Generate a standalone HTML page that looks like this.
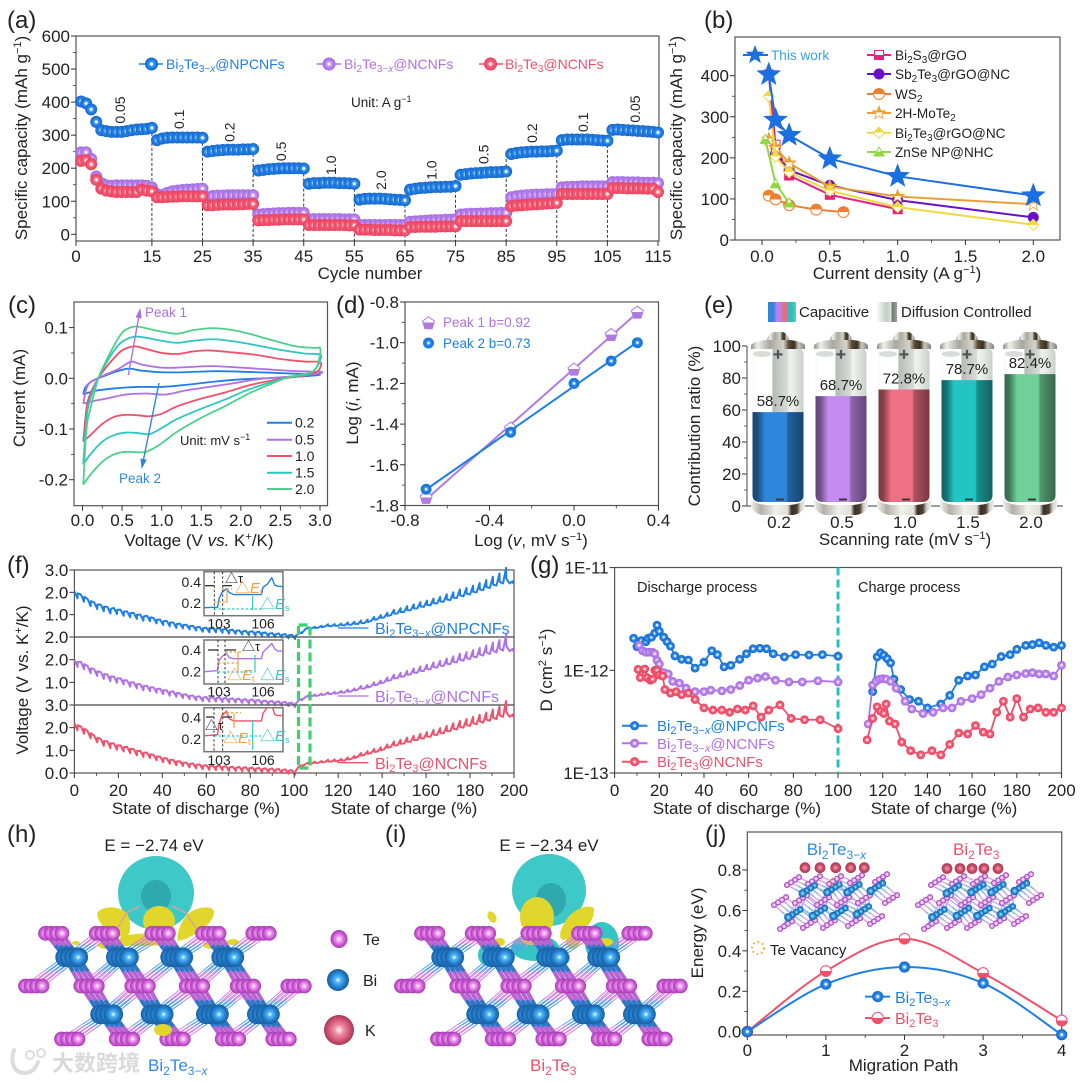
<!DOCTYPE html>
<html lang="en">
<head>
<meta charset="utf-8">
<title>Bi2Te3 composite electrochemical figure</title>
<style>
html,body{margin:0;padding:0;background:#fff}
svg{display:block;font-family:"Liberation Sans","Noto Sans CJK SC",sans-serif}
text{fill:#222;font-size:17px}
.panel{font-size:24px}
.title{text-anchor:middle}
</style>
</head>
<body>
<svg id="fig" xmlns="http://www.w3.org/2000/svg" width="1080" height="1082" viewBox="0 0 1080 1082">
<defs>
<radialGradient id="bead-blue"><stop offset="0" stop-color="#fff"/><stop offset=".16" stop-color="#e6f3ff"/><stop offset=".42" stop-color="#2a8cf0"/><stop offset="1" stop-color="#1565c8"/></radialGradient>
<radialGradient id="bead-purple"><stop offset="0" stop-color="#fff"/><stop offset=".16" stop-color="#f5ecff"/><stop offset=".42" stop-color="#c08cf0"/><stop offset="1" stop-color="#a468e0"/></radialGradient>
<radialGradient id="bead-red"><stop offset="0" stop-color="#fff"/><stop offset=".16" stop-color="#ffecef"/><stop offset=".42" stop-color="#f8607a"/><stop offset="1" stop-color="#e8405c"/></radialGradient>
<radialGradient id="atom-te"><stop offset="0" stop-color="#fff"/><stop offset=".3" stop-color="#f0a0f0"/><stop offset=".75" stop-color="#c850d0"/><stop offset="1" stop-color="#a040b0"/></radialGradient>
<radialGradient id="atom-bi"><stop offset="0" stop-color="#fff"/><stop offset=".25" stop-color="#50b8f8"/><stop offset=".72" stop-color="#1f78c8"/><stop offset="1" stop-color="#1a5f9c"/></radialGradient>
<radialGradient id="atom-k"><stop offset="0" stop-color="#fff"/><stop offset=".3" stop-color="#f090a8"/><stop offset=".75" stop-color="#d04f70"/><stop offset="1" stop-color="#9f3a5a"/></radialGradient>
<radialGradient id="atom-k-small"><stop offset="0" stop-color="#f0a0b0"/><stop offset=".6" stop-color="#c84a64"/><stop offset="1" stop-color="#a83a54"/></radialGradient>
<linearGradient id="glass" x1="0" x2="1" y1="0" y2="0"><stop offset="0" stop-color="#f4f6f4"/><stop offset=".06" stop-color="#fff"/><stop offset=".38" stop-color="#fff"/><stop offset=".4" stop-color="#b5bdb9"/><stop offset=".68" stop-color="#d6dbd8"/><stop offset=".72" stop-color="#f0f2f0"/><stop offset=".82" stop-color="#e6e9e6"/><stop offset="1" stop-color="#c8cfcb"/></linearGradient>
<linearGradient id="shade" x1="0" x2="1" y1="0" y2="0"><stop offset="0" stop-color="#000" stop-opacity=".5"/><stop offset=".1" stop-color="#000" stop-opacity=".42"/><stop offset=".25" stop-color="#000" stop-opacity="0"/><stop offset=".66" stop-color="#000" stop-opacity="0"/><stop offset=".7" stop-color="#000" stop-opacity=".28"/><stop offset="1" stop-color="#000" stop-opacity=".5"/></linearGradient>
<linearGradient id="metal" x1="0" x2="1" y1="0" y2="0"><stop offset="0" stop-color="#8f928b"/><stop offset=".12" stop-color="#efefec"/><stop offset=".35" stop-color="#a8a89f"/><stop offset=".6" stop-color="#d4d4cc"/><stop offset=".7" stop-color="#5a4a32"/><stop offset=".8" stop-color="#3a3020"/><stop offset=".88" stop-color="#c8c8c0"/><stop offset="1" stop-color="#808078"/></linearGradient>
<linearGradient id="cup" x1="0" x2="1" y1="0" y2="0"><stop offset="0" stop-color="#f2f2ee"/><stop offset=".18" stop-color="#b0b0a8"/><stop offset=".45" stop-color="#f0f0ec"/><stop offset=".68" stop-color="#e0e0d8"/><stop offset=".75" stop-color="#3a3020"/><stop offset=".85" stop-color="#4a4030"/><stop offset=".92" stop-color="#d4d4cc"/><stop offset="1" stop-color="#f0f0ec"/></linearGradient>
<linearGradient id="legend-capacitive" x1="0" x2="1" y1="0" y2="0"><stop offset="0" stop-color="#2f86dc"/><stop offset=".2" stop-color="#2f86dc"/><stop offset=".3" stop-color="#b980ea"/><stop offset=".45" stop-color="#b980ea"/><stop offset=".55" stop-color="#ee6a7c"/><stop offset=".65" stop-color="#ee6a7c"/><stop offset=".75" stop-color="#25c4c4"/><stop offset=".87" stop-color="#25c4c4"/><stop offset="1" stop-color="#6fd09a"/></linearGradient>
<linearGradient id="legend-diffusion" x1="0" x2="1" y1="0" y2="0"><stop offset="0" stop-color="#fff"/><stop offset=".5" stop-color="#c4ccc8"/><stop offset=".72" stop-color="#e0e4e0"/><stop offset=".76" stop-color="#70786f"/><stop offset="1" stop-color="#9aa29c"/></linearGradient>
<clipPath id="clip-inset-1"><rect x="204" y="571.7" width="79" height="44.3"/></clipPath>
<clipPath id="clip-inset-2"><rect x="204" y="640" width="79" height="44"/></clipPath>
<clipPath id="clip-inset-3"><rect x="204" y="707.7" width="79" height="44"/></clipPath>
</defs>

<!-- PANEL A -->
<g id="panel-a">
  <text class="panel" x="7" y="28">(a)</text>
  <g id="a-plot"></g>
  <text class="title" transform="translate(27,138) rotate(-90)">Specific capacity (mAh g<tspan dy="-6" font-size="11">−1</tspan><tspan dy="6">)</tspan></text>
  <text class="title" x="370" y="279">Cycle number</text>
  <g font-size="14">
    <text x="166" y="69" style="font-size:14px;fill:#1f7fe6">Bi<tspan dy="3" font-size="10">2</tspan><tspan dy="-3">Te</tspan><tspan dy="3" font-size="10">3−<tspan font-style="italic">x</tspan></tspan><tspan dy="-3">@NPCNFs</tspan></text>
    <text x="344" y="69" style="font-size:14px;fill:#b070e8">Bi<tspan dy="3" font-size="10">2</tspan><tspan dy="-3">Te</tspan><tspan dy="3" font-size="10">3−<tspan font-style="italic">x</tspan></tspan><tspan dy="-3">@NCNFs</tspan></text>
    <text x="505" y="69" style="font-size:14px;fill:#f0506a">Bi<tspan dy="3" font-size="10">2</tspan><tspan dy="-3">Te</tspan><tspan dy="3" font-size="10">3</tspan><tspan dy="-3">@NCNFs</tspan></text>
  </g>
  <text x="351" y="107" style="font-size:13.5px">Unit: A g<tspan dy="-5" font-size="9">−1</tspan></text>
</g>

<!-- PANEL B -->
<g id="panel-b">
  <text class="panel" x="704" y="28">(b)</text>
  <g id="b-plot"></g>
  <text class="title" transform="translate(682,138) rotate(-90)">Specific capacity (mAh g<tspan dy="-6" font-size="11">−1</tspan><tspan dy="6">)</tspan></text>
  <text class="title" x="897" y="279">Current density (A g<tspan dy="-6" font-size="11">−1</tspan><tspan dy="6">)</tspan></text>
  <g>
    <text x="771" y="60" style="font-size:13.6px;fill:#3aa0e8">This work</text>
    <text x="895" y="60" style="font-size:13.6px">Bi<tspan dy="3" font-size="10">2</tspan><tspan dy="-3">S</tspan><tspan dy="3" font-size="10">3</tspan><tspan dy="-3">@rGO</tspan></text>
    <text x="895" y="79" style="font-size:13.6px">Sb<tspan dy="3" font-size="10">2</tspan><tspan dy="-3">Te</tspan><tspan dy="3" font-size="10">3</tspan><tspan dy="-3">@rGO@NC</tspan></text>
    <text x="895" y="99" style="font-size:13.6px">WS<tspan dy="3" font-size="10">2</tspan></text>
    <text x="895" y="118" style="font-size:13.6px">2H-MoTe<tspan dy="3" font-size="10">2</tspan></text>
    <text x="895" y="138" style="font-size:13.6px">Bi<tspan dy="3" font-size="10">2</tspan><tspan dy="-3">Te</tspan><tspan dy="3" font-size="10">3</tspan><tspan dy="-3">@rGO@NC</tspan></text>
    <text x="895" y="157" style="font-size:13.6px">ZnSe NP@NHC</text>
  </g>
</g>

<!-- PANEL C -->
<g id="panel-c">
  <text class="panel" x="8" y="313">(c)</text>
  <g id="c-plot"></g>
  <text class="title" transform="translate(25,398) rotate(-90)">Current (mA)</text>
  <text class="title" x="199" y="546">Voltage (V <tspan font-style="italic">vs.</tspan> K<tspan dy="-6" font-size="11">+</tspan><tspan dy="6">/K)</tspan></text>
  <text x="145" y="317" style="font-size:13.5px;fill:#b070e0">Peak 1</text>
  <text x="119" y="483" style="font-size:13.5px;fill:#2f88e0">Peak 2</text>
  <text x="180" y="445" style="font-size:13px">Unit: mV s<tspan dy="-5" font-size="9">−1</tspan></text>
</g>

<!-- PANEL D -->
<g id="panel-d">
  <text class="panel" x="336" y="313">(d)</text>
  <g id="d-plot"></g>
  <text class="title" transform="translate(358,403) rotate(-90)">Log (<tspan font-style="italic">i</tspan>, mA)</text>
  <text class="title" x="531" y="546">Log (<tspan font-style="italic">v</tspan>, mV s<tspan dy="-6" font-size="11">−1</tspan><tspan dy="6">)</tspan></text>
  <text x="443" y="327" style="font-size:13.5px;fill:#b070e0">Peak 1 b=0.92</text>
  <text x="443" y="348" style="font-size:13.5px;fill:#1f7fe6">Peak 2 b=0.73</text>
</g>

<!-- PANEL E -->
<g id="panel-e">
  <text class="panel" x="704" y="313">(e)</text>
  <rect x="768" y="302" width="28" height="20" fill="url(#legend-capacitive)"/>
  <text x="799" y="317" style="font-size:15px">Capacitive</text>
  <rect x="876" y="302" width="21" height="20" fill="url(#legend-diffusion)"/>
  <text x="901" y="317" style="font-size:15px">Diffusion Controlled</text>
  <g id="e-plot"></g>
  <text class="title" transform="translate(700,426) rotate(-90)">Contribution ratio (%)</text>
  <text class="title" x="905" y="545">Scanning rate (mV s<tspan dy="-6" font-size="11">−1</tspan><tspan dy="6">)</tspan></text>
</g>

<!-- PANEL F -->
<g id="panel-f">
  <text class="panel" x="7" y="573">(f)</text>
  <g id="f-plot"></g>
  <text class="title" transform="translate(28,680) rotate(-90)">Voltage (V vs. K<tspan dy="-6" font-size="11">+</tspan><tspan dy="6">/K)</tspan></text>
  <text class="title" x="196" y="814">State of discharge (%)</text>
  <text class="title" x="404" y="814">State of charge (%)</text>
  <text x="375" y="634" style="font-size:16px;fill:#1f7fe6">Bi<tspan dy="3" font-size="11">2</tspan><tspan dy="-3">Te</tspan><tspan dy="3" font-size="11">3−<tspan font-style="italic">x</tspan></tspan><tspan dy="-3">@NPCNFs</tspan></text>
  <text x="375" y="702" style="font-size:16px;fill:#b070e8">Bi<tspan dy="3" font-size="11">2</tspan><tspan dy="-3">Te</tspan><tspan dy="3" font-size="11">3−<tspan font-style="italic">x</tspan></tspan><tspan dy="-3">@NCNFs</tspan></text>
  <text x="375" y="769" style="font-size:16px;fill:#f0506a">Bi<tspan dy="3" font-size="11">2</tspan><tspan dy="-3">Te</tspan><tspan dy="3" font-size="11">3</tspan><tspan dy="-3">@NCNFs</tspan></text>
  <g id="f-insets"></g>
  <g>
    <text x="225" y="583" style="font-size:13px">△τ</text>
    <text x="235" y="593" style="font-size:15px;fill:#f0a040">△<tspan font-style="italic">E</tspan><tspan dy="2" font-size="9">t</tspan></text>
    <text x="260" y="609" style="font-size:15px;fill:#35c5c5">△<tspan font-style="italic">E</tspan><tspan dy="2" font-size="9">s</tspan></text>
    <text x="242" y="651" style="font-size:13px">△τ</text>
    <text x="227" y="680" style="font-size:15px;fill:#f0a040">△<tspan font-style="italic">E</tspan><tspan dy="2" font-size="9">t</tspan></text>
    <text x="260" y="680" style="font-size:15px;fill:#35c5c5">△<tspan font-style="italic">E</tspan><tspan dy="2" font-size="9">s</tspan></text>
    <text x="205" y="730" style="font-size:13px">△τ</text>
    <text x="223" y="743" style="font-size:15px;fill:#f0a040">△<tspan font-style="italic">E</tspan><tspan dy="2" font-size="9">t</tspan></text>
    <text x="260" y="741" style="font-size:15px;fill:#35c5c5">△<tspan font-style="italic">E</tspan><tspan dy="2" font-size="9">s</tspan></text>
  </g>
  <rect x="298.5" y="625" width="11.5" height="143" fill="none" stroke="#3fcf6f" stroke-width="3.2" stroke-dasharray="9 4"/>
</g>

<!-- PANEL G -->
<g id="panel-g">
  <text class="panel" x="530" y="573">(g)</text>
  <g id="g-plot"></g>
  <text class="title" transform="translate(552,670) rotate(-90)">D (cm<tspan dy="-6" font-size="11">2</tspan><tspan dy="6"> s</tspan><tspan dy="-6" font-size="11">−1</tspan><tspan dy="6">)</tspan></text>
  <text class="title" x="737" y="814">State of discharge (%)</text>
  <text class="title" x="944" y="814">State of charge (%)</text>
  <text x="637" y="592" style="font-size:14.5px">Discharge process</text>
  <text x="858" y="592" style="font-size:14.5px">Charge process</text>
  <text x="657" y="731" style="font-size:15px;fill:#1f7fe6">Bi<tspan dy="3" font-size="11">2</tspan><tspan dy="-3">Te</tspan><tspan dy="3" font-size="11">3−<tspan font-style="italic">x</tspan></tspan><tspan dy="-3">@NPCNFs</tspan></text>
  <text x="657" y="749" style="font-size:15px;fill:#b070e8">Bi<tspan dy="3" font-size="11">2</tspan><tspan dy="-3">Te</tspan><tspan dy="3" font-size="11">3−<tspan font-style="italic">x</tspan></tspan><tspan dy="-3">@NCNFs</tspan></text>
  <text x="657" y="767" style="font-size:15px;fill:#f0506a">Bi<tspan dy="3" font-size="11">2</tspan><tspan dy="-3">Te</tspan><tspan dy="3" font-size="11">3</tspan><tspan dy="-3">@NCNFs</tspan></text>
</g>

<!-- PANEL H I -->
<g id="panel-h">
  <text class="panel" x="7" y="842">(h)</text>
  <text class="title" x="154" y="851">E = −2.74 eV</text>
  <ellipse cx="156" cy="893" rx="38" ry="37" fill="#3fc8c8"/>
  <ellipse cx="156" cy="896" rx="15" ry="16" fill="#2fa8ae"/>
  <g fill="#e0d62c">
    <path d="M97 914C100 905 122 905 128 915C132 925 130 936 126 937C112 936 98 925 97 914Z"/>
    <ellipse cx="159" cy="921" rx="16" ry="15"/>
    <path d="M214 912C214 905 196 906 188 914C180 922 176 935 178 941C190 939 214 925 214 912Z"/>
    <path d="M120 937C135 932 170 932 172 940C170 947 130 948 120 943Z"/>
    <ellipse cx="106" cy="945" rx="8" ry="4"/>
    <ellipse cx="126" cy="942" rx="6" ry="4"/>
    <ellipse cx="212" cy="945" rx="9" ry="4"/>
    <ellipse cx="233" cy="942" rx="6" ry="3"/>
    <ellipse cx="76" cy="943" rx="4" ry="2"/>
  </g>
  <g stroke="#e0a0a0" stroke-width="1.4">
    <line x1="126" y1="913" x2="140" y2="906"/>
    <line x1="186" y1="913" x2="172" y2="906"/>
    <line x1="126" y1="913" x2="118" y2="928"/>
    <line x1="186" y1="913" x2="196" y2="928"/>
  </g>
  <g id="crystal-h"></g>
  <ellipse cx="163" cy="1030" rx="9" ry="6" fill="#e0d62c"/>
  <text x="148" y="1071" style="font-size:17px;fill:#2f88e8">Bi<tspan dy="4" font-size="12">2</tspan><tspan dy="-4">Te</tspan><tspan dy="4" font-size="12">3−<tspan font-style="italic">x</tspan></tspan></text>
</g>
<g id="panel-i">
  <text class="panel" x="385" y="842">(i)</text>
  <text class="title" x="549" y="851">E = −2.34 eV</text>
  <ellipse cx="549" cy="890" rx="37" ry="36" fill="#3fc8c8"/>
  <ellipse cx="551" cy="900" rx="15" ry="17" fill="#2fa8ae"/>
  <g id="crystal-i-back" fill="#35c5c5">
    <ellipse cx="535" cy="948" rx="24" ry="13"/>
    <ellipse cx="488" cy="955" rx="10" ry="11"/>
    <ellipse cx="602" cy="943" rx="17" ry="21"/>
    <ellipse cx="560" cy="958" rx="10" ry="8"/>
  </g>
  <g fill="#e0d62c">
    <ellipse cx="537" cy="917" rx="17" ry="20"/>
    <path d="M594 908C585 903 570 912 565 922C560 930 558 938 563 940C575 938 596 925 594 908Z"/>
    <ellipse cx="492" cy="917" rx="4" ry="6" transform="rotate(-30 492 917)"/>
    <ellipse cx="530" cy="938" rx="9" ry="7"/>
    <ellipse cx="573" cy="942" rx="7" ry="7"/>
    <ellipse cx="606" cy="942" rx="7" ry="4"/>
    <ellipse cx="500" cy="942" rx="5" ry="4"/>
  </g>
  <g id="crystal-i"></g>
  <text x="530" y="1071" style="font-size:17px;fill:#f0506a">Bi<tspan dy="4" font-size="12">2</tspan><tspan dy="-4">Te</tspan><tspan dy="4" font-size="12">3</tspan></text>
</g>
<g>
  <ellipse cx="339" cy="939" rx="8.5" ry="9" fill="url(#atom-te)"/>
  <text x="363" y="945" style="font-size:16px">Te</text>
  <ellipse cx="338" cy="980" rx="11" ry="11" fill="url(#atom-bi)"/>
  <text x="363" y="986" style="font-size:16px">Bi</text>
  <ellipse cx="339" cy="1030" rx="15" ry="15" fill="url(#atom-k)"/>
  <text x="365" y="1036" style="font-size:16px">K</text>
</g>
<g opacity=".85">
  <path d="M14 1050 C10 1062 14 1073 24 1073 C32 1073 36 1068 38 1062" fill="none" stroke="#d6d6d6" stroke-width="4" stroke-linecap="round"/>
  <circle cx="30" cy="1055" r="4" fill="none" stroke="#d6d6d6" stroke-width="2"/>
  <circle cx="41" cy="1053" r="4" fill="none" stroke="#d6d6d6" stroke-width="2"/>
  <text x="52" y="1071" style="font-size:22px;fill:#d4d4d4;font-weight:700;font-family:'Liberation Sans','Noto Sans CJK SC',sans-serif">大数跨境</text>
</g>

<!-- PANEL J -->
<g id="panel-j">
  <text class="panel" x="705" y="842">(j)</text>
  <g id="j-plot"></g>
  <text class="title" transform="translate(703,933) rotate(-90)">Energy (eV)</text>
  <text class="title" x="903.5" y="1071">Migration Path</text>
  <text x="806.7" y="855" style="font-size:17px;fill:#2f88e8">Bi<tspan dy="4" font-size="12">2</tspan><tspan dy="-4">Te</tspan><tspan dy="4" font-size="12">3−<tspan font-style="italic">x</tspan></tspan></text>
  <text x="953" y="855" style="font-size:17px;fill:#f0506a">Bi<tspan dy="4" font-size="12">2</tspan><tspan dy="-4">Te</tspan><tspan dy="4" font-size="12">3</tspan></text>
  <circle cx="758" cy="948" r="6" fill="none" stroke="#f0b030" stroke-width="2.2" stroke-dasharray="1.6 3"/>
  <text x="770" y="955" style="font-size:15px">Te Vacancy</text>
  <text x="895" y="1003" style="font-size:16px;fill:#1f7fe6">Bi<tspan dy="3" font-size="11">2</tspan><tspan dy="-3">Te</tspan><tspan dy="3" font-size="11">3−<tspan font-style="italic">x</tspan></tspan></text>
  <text x="895" y="1024" style="font-size:16px;fill:#f0506a">Bi<tspan dy="3" font-size="11">2</tspan><tspan dy="-3">Te</tspan><tspan dy="3" font-size="11">3</tspan></text>
</g>
</svg>

<script>
/* ---------- chart data ---------- */
// (a) rate capability, capacity per cycle
const aXTicks = [0, 15, 25, 35, 45, 55, 65, 75, 85, 95, 105, 115];
const aYTicks = [0, 100, 200, 300, 400, 500, 600];
const capBlue = [402,396,378,340,315,312,310,310,310,312,315,317,318,319,322,
  285,290,292,293,293,293,293,293,293,292,
  250,252,254,255,256,256,256,257,257,258,
  193,195,197,198,199,200,200,200,200,199,
  153,155,155,156,156,156,155,155,154,153,
  105,107,108,108,108,107,106,105,104,103,
  135,138,140,141,142,143,143,144,144,146,
  180,182,184,185,186,187,188,188,189,190,
  243,246,248,249,250,250,251,251,252,253,
  285,287,287,287,287,287,286,285,284,283,
  316,317,316,315,314,313,312,311,310,308];
const capPurple = [248,248,228,175,155,148,147,148,148,148,148,148,148,147,142,
  122,118,125,130,132,134,135,136,137,138,
  112,116,117,117,118,118,118,118,118,118,
  60,61,62,63,64,64,65,65,65,65,
  45,46,46,46,46,46,46,45,45,45,
  28,28,28,28,28,28,28,28,28,28,
  38,39,40,41,42,43,43,44,44,45,
  60,61,62,62,63,63,64,64,65,65,
  112,115,117,118,119,120,120,121,121,122,
  142,143,144,144,145,145,145,145,145,145,
  158,158,158,157,157,157,156,156,156,155];
const capRed = [222,224,212,165,138,132,130,128,128,128,128,128,135,132,130,
  112,112,113,114,114,115,115,115,115,115,
  88,88,89,90,90,90,91,91,92,92,
  42,43,43,44,44,45,45,45,45,45,
  28,28,28,28,28,28,28,28,27,27,
  14,14,14,13,13,13,13,12,12,12,
  22,22,23,23,23,23,24,24,24,24,
  40,40,40,40,40,40,40,40,40,40,
  85,87,88,89,90,91,92,93,94,95,
  122,122,122,122,122,122,122,122,122,122,
  140,140,140,139,139,139,139,138,138,128];
const rateLabels = ['0.05','0.1','0.2','0.5','1.0','2.0','1.0','0.5','0.2','0.1','0.05'];
const rateLabelCycle = [8.7,20.4,30.3,40.5,50.4,60.3,70.2,80.5,90.1,100.2,110.5];
const rateLabelCap = [376,348,309,251,209,164,194,242,306,339,379];
const rateBoundaries = [15,25,35,45,55,65,75,85,95,105];

// (b) comparison
const bXTicks = [0, 0.5, 1, 1.5, 2];
const bYTicks = [0, 100, 200, 300, 400];
const thisWorkX = [0.05,0.1,0.2,0.5,1,2];
const thisWorkY = [403,292,255,198,155,108];
const bi2s3X = [0.05,0.1,0.2,0.5,1];
const bi2s3Y = [403,232,157,110,75];
const sb2te3X = [0.1,0.2,0.5,1,2];
const sb2te3Y = [210,170,133,97,55];
const ws2X = [0.05,0.1,0.2,0.4,0.6];
const ws2Y = [108,99,85,74,68];
const moteX = [0.05,0.1,0.2,0.5,1,2];
const moteY = [245,225,187,130,106,87];
const bi2te3rgoX = [0.05,0.1,0.2,0.5,1,2];
const bi2te3rgoY = [350,203,165,120,80,37];
const znseX = [0.025,0.1,0.2];
const znseY = [245,137,90];

// (c) cyclic voltammetry: [voltage, current] samples around each loop
const cvTicksX = [0,0.5,1,1.5,2,2.5,3];
const cvTicksY = [-0.2,-0.1,0,0.1];
const cvRates = ['0.2','0.5','1.0','1.5','2.0'];
const cv02 = [[0.01,-0.032],[0.03,-0.02],[0.08,-0.01],[0.15,-0.003],[0.25,0.003],[0.4,0.012],[0.58,0.019],[0.75,0.015],[1,0.012],[1.3,0.012],[1.7,0.014],[2.2,0.012],[2.7,0.009],[3,0.007],[2.7,0.003],[2.3,0],[2,-0.002],[1.7,-0.006],[1.3,-0.013],[1,-0.017],[0.7,-0.017],[0.4,-0.02],[0.15,-0.025],[0.01,-0.032]];
const cv05 = [[0.01,-0.05],[0.05,-0.02],[0.1,-0.008],[0.2,0],[0.3,0.008],[0.45,0.018],[0.55,0.028],[0.63,0.033],[0.75,0.027],[1,0.021],[1.2,0.021],[1.6,0.024],[1.9,0.022],[2.3,0.018],[2.7,0.014],[3,0.013],[3,0.01],[2.8,0.006],[2.5,0.002],[2.2,-0.002],[1.9,-0.01],[1.6,-0.017],[1.3,-0.024],[1.05,-0.032],[0.8,-0.03],[0.55,-0.032],[0.3,-0.04],[0.1,-0.046],[0.01,-0.05]];
const cv10 = [[0.01,-0.125],[0.05,-0.06],[0.1,-0.03],[0.2,0],[0.3,0.022],[0.4,0.04],[0.5,0.055],[0.65,0.063],[0.8,0.058],[1,0.05],[1.2,0.048],[1.4,0.053],[1.6,0.055],[1.9,0.051],[2.2,0.046],[2.5,0.038],[2.8,0.033],[3,0.032],[3,0.02],[2.95,0.012],[2.8,0.005],[2.6,0.001],[2.4,-0.004],[2.1,-0.014],[1.8,-0.028],[1.5,-0.04],[1.2,-0.055],[1,-0.07],[0.85,-0.075],[0.7,-0.073],[0.55,-0.072],[0.4,-0.076],[0.25,-0.09],[0.1,-0.112],[0.01,-0.125]];
const cv15 = [[0.01,-0.17],[0.05,-0.08],[0.1,-0.04],[0.2,0],[0.3,0.03],[0.4,0.055],[0.5,0.072],[0.65,0.082],[0.8,0.08],[1,0.074],[1.2,0.07],[1.4,0.074],[1.65,0.077],[1.9,0.073],[2.2,0.065],[2.5,0.056],[2.8,0.049],[3,0.047],[3,0.035],[2.95,0.02],[2.85,0.008],[2.6,0.002],[2.4,-0.007],[2.1,-0.022],[1.8,-0.042],[1.5,-0.06],[1.2,-0.08],[1,-0.098],[0.85,-0.11],[0.7,-0.108],[0.55,-0.107],[0.4,-0.112],[0.25,-0.125],[0.1,-0.15],[0.01,-0.17]];
const cv20 = [[0.01,-0.21],[0.05,-0.1],[0.1,-0.06],[0.2,0],[0.3,0.035],[0.4,0.065],[0.5,0.09],[0.6,0.1],[0.7,0.102],[0.85,0.097],[1,0.092],[1.2,0.088],[1.4,0.095],[1.65,0.099],[1.9,0.095],[2.1,0.088],[2.4,0.075],[2.7,0.063],[2.95,0.06],[3,0.06],[3,0.045],[2.95,0.02],[2.85,0.01],[2.6,0.002],[2.4,-0.01],[2.1,-0.03],[1.8,-0.055],[1.5,-0.078],[1.2,-0.105],[1,-0.128],[0.85,-0.142],[0.75,-0.146],[0.55,-0.145],[0.4,-0.15],[0.25,-0.165],[0.1,-0.19],[0.01,-0.21]];

// (d) log i vs log v
const dXTicks = [-0.8,-0.4,0,0.4];
const dYTicks = [-1.8,-1.6,-1.4,-1.2,-1,-0.8];
const logV = [-0.7,-0.3,0,0.176,0.3];
const logIPeak1 = [-1.76,-1.42,-1.13,-0.96,-0.85];
const logIPeak2 = [-1.72,-1.44,-1.2,-1.09,-1];

// (e) capacitive contribution
const eRates = ['0.2','0.5','1.0','1.5','2.0'];
const eYTicks = [0,20,40,60,80,100];
const eValues = [58.7,68.7,72.8,78.7,82.4];

// (f) GITT voltage sampled every 3 % state
const fXTicks = [0,20,40,60,80,100,120,140,160,180,200];
const gittStep = [0,3,6,9,12,15,18,21,24,27,30,33,36,39,42,45,48,51,54,57,60,63,66,69,72,75,78,81,84,87,90,93,96,99,102,105,108,111,114,117,120,123,126,129,132,135,138,141,144,147,150,153,156,159,162,165,168,171,174,177,180,183,186,189,192,195,198];
const gittPulse = [.32,.32,.32,.3,.3,.3,.27,.27,.27,.27,.27,.24,.24,.24,.24,.24,.21,.21,.21,.21,.21,.21,.21,.21,.19,.19,.19,.19,.19,.19,.19,.19,.19,.19,.06,.08,.08,.08,.1,.1,.1,.13,.13,.16,.16,.18,.18,.21,.24,.24,.26,.26,.28,.28,.3,.3,.33,.35,.38,.38,.4,.42,.45,.5,.55,.7,.1];
const gittBlue = [2.05,1.9,1.7,1.55,1.45,1.35,1.3,1.22,1.15,1.08,1,.95,.85,.78,.72,.65,.6,.55,.5,.45,.42,.42,.4,.36,.33,.3,.28,.26,.24,.2,.18,.16,.13,.1,.15,.35,.38,.42,.47,.48,.5,.52,.55,.58,.62,.72,.8,.88,.98,1.05,1.12,1.2,1.28,1.35,1.42,1.5,1.58,1.65,1.75,1.82,1.9,2,2.1,2.2,2.3,2.4,2.4];
const gittPurple = [2,1.9,1.72,1.58,1.45,1.35,1.25,1.18,1.08,1,.92,.85,.78,.72,.65,.6,.52,.47,.42,.38,.36,.36,.34,.32,.3,.28,.26,.25,.22,.2,.18,.16,.14,.1,.2,.34,.38,.42,.46,.48,.52,.55,.6,.68,.72,.82,.9,1,1.1,1.18,1.25,1.35,1.42,1.5,1.58,1.65,1.72,1.8,1.88,1.95,2.02,2.1,2.18,2.25,2.32,2.4,2.38];
const gittRed = [2.2,2.05,1.85,1.65,1.5,1.4,1.3,1.22,1.15,1.05,.98,.9,.8,.72,.65,.58,.52,.46,.42,.38,.35,.34,.33,.3,.28,.27,.26,.24,.23,.21,.2,.18,.16,.12,.28,.38,.42,.45,.48,.5,.52,.55,.62,.72,.8,.88,.95,1.05,1.15,1.22,1.3,1.38,1.45,1.52,1.6,1.68,1.75,1.85,1.92,2,2.08,2.15,2.22,2.3,2.38,2.48,2.48];
const fPanelTopLabels = ['3.0','2.0','1.0','2.0'];
const fPanelMidLabels = ['2.0','1.0'];
const fPanelLowLabels = ['3.0','2.0','1.0','0.0'];
const insetTime = [102,102.9,103,103.2,103.5,103.7,104,105.9,106,106.3,106.6,106.8,107,107.4];
const insetBlue = [.155,.16,.24,.3,.335,.3,.28,.28,.35,.38,.44,.37,.36,.355];
const insetPurple = [.2,.21,.3,.34,.37,.33,.32,.32,.38,.42,.46,.41,.39,.39];
const insetRed = [.23,.24,.34,.42,.46,.39,.37,.37,.44,.5,.52,.43,.42,.42];

// (g) diffusion coefficient, units of 1e-12 cm2/s
const gXTicks = [0,20,40,60,80,100,120,140,160,180,200];
const gYExp = [-13,-12,-11];
const dischargeBlueX = [8.5,10,12,14,15,16.5,18,19,20,22,23.5,25,27,30,33,36,40,43.5,46,49,52,56,59,62,65,68,71,76,81,87,93,100];
const dischargeBlueY = [2.05,1.7,1.95,1.9,2.05,2.1,2.3,2.75,2.4,2.1,1.9,1.72,1.38,1.28,1.26,1.05,1.2,1.55,1.42,1.08,1.12,1.28,1.45,1.62,1.64,1.62,1.45,1.35,1.42,1.41,1.42,1.37];
const chargeBlueX = [115.5,117.5,119,120.5,122,123.5,125,128,132,136,140,146,150,154,158,161.5,165.5,169,173,177,180,184,187,190,193,196.5,200];
const chargeBlueY = [.62,1.35,1.48,1.4,1.3,1.18,.82,.65,.52,.5,.43,.47,.57,.8,.88,.9,1.08,1.15,1.36,1.42,1.6,1.75,1.78,1.85,1.75,1.68,1.75];
const dischargePurpleX = [11,12.5,14,15.5,17,18,19,20,22,24,26,29,32,36,40,43,48,52,56,60,64,67.5,72,78,84,91,100];
const dischargePurpleY = [1.75,1.55,1.5,1.5,1.5,1.45,1.25,1.15,.95,.92,.78,.75,.67,.62,.62,.64,.63,.65,.71,.8,.84,.87,.8,.77,.77,.79,.77];
const chargePurpleX = [113.5,115.5,117,118.5,120,121.5,123.5,126,130,133,138,142.5,147,151,155,160,164,168,172,176,180,184,187,190,193,196.5,200];
const chargePurpleY = [.3,.72,.78,.82,.83,.82,.78,.67,.5,.42,.38,.39,.43,.43,.5,.53,.58,.67,.78,.86,.9,.93,.95,.92,.92,.88,1.12];
const dischargeRedX = [10.5,11.5,13.5,14.5,16,17,18,19,20,21.5,22.5,25,27.5,30,33,36,40,44,48,51.5,55,58.5,62,65.5,69,74,79,85,92,100];
const dischargeRedY = [1.02,.85,1.03,.85,.8,.82,1,1,.9,.88,.65,.6,.62,.58,.6,.52,.43,.41,.41,.39,.42,.41,.45,.35,.41,.46,.34,.33,.33,.27];
const chargeRedX = [113,115.5,117.5,119,120.5,121.5,123,125.5,128.5,132.5,137,142,146,150,154,158,161.5,165,168,171,174,177,180,183,186,189.5,193,196.5,200];
const chargeRedY = [.21,.34,.44,.4,.38,.47,.32,.3,.2,.165,.15,.165,.15,.19,.245,.24,.29,.25,.24,.39,.5,.35,.53,.35,.42,.43,.39,.39,.43];

// (j) migration barrier
const jXTicks = [0,1,2,3,4];
const jYTicks = [0,0.2,0.4,0.6,0.8];
const jPath = [0,1,2,3,4];
const jBlue = [0,0.235,0.32,0.24,-0.015];
const jRed = [0,0.3,0.46,0.29,0.055];

/* ---------- helpers ---------- */
const NS = 'http://www.w3.org/2000/svg';
const TICK = '#333';
function make(tag, parent, attrs, content) {
  const node = document.createElementNS(NS, tag);
  for (const k in attrs) node.setAttribute(k, attrs[k]);
  if (content !== undefined) node.textContent = content;
  parent.appendChild(node);
  return node;
}
function $(id) { return document.getElementById(id); }
function linear(d0, d1, r0, r1) { return v => r0 + (v - d0) * (r1 - r0) / (d1 - d0); }
function polyPath(xs, ys) {
  return xs.map((x, i) => (i ? 'L' : 'M') + x.toFixed(2) + ' ' + ys[i].toFixed(2)).join('');
}
function smoothPath(xs, ys) {
  let d = 'M' + xs[0] + ' ' + ys[0];
  for (let i = 0; i < xs.length - 1; i++) {
    const i0 = Math.max(0, i - 1), i3 = Math.min(xs.length - 1, i + 2);
    const c1x = xs[i] + (xs[i + 1] - xs[i0]) / 6, c1y = ys[i] + (ys[i + 1] - ys[i0]) / 6;
    const c2x = xs[i + 1] - (xs[i3] - xs[i]) / 6, c2y = ys[i + 1] - (ys[i3] - ys[i]) / 6;
    d += 'C' + c1x + ' ' + c1y + ' ' + c2x + ' ' + c2y + ' ' + xs[i + 1] + ' ' + ys[i + 1];
  }
  return d;
}
function starPoints(cx, cy, r) {
  const pts = [];
  for (let i = 0; i < 10; i++) {
    const a = -Math.PI / 2 + i * Math.PI / 5, rr = i % 2 ? r * 0.42 : r;
    pts.push((cx + rr * Math.cos(a)).toFixed(1) + ',' + (cy + rr * Math.sin(a)).toFixed(1));
  }
  return pts.join(' ');
}
let gradCount = 0;
function halfFill(color, topFilled) {
  const id = 'half-' + (gradCount++);
  const g = make('linearGradient', document.querySelector('defs'), { id: id, x1: 0, x2: 0, y1: 0, y2: 1 });
  make('stop', g, { offset: .5, 'stop-color': topFilled ? color : '#fff' });
  make('stop', g, { offset: .5, 'stop-color': topFilled ? '#fff' : color });
  return 'url(#' + id + ')';
}
function drawShape(parent, shape, cx, cy, size, fill, stroke) {
  let node;
  if (shape === 'circle') node = make('circle', parent, { cx: cx, cy: cy, r: size, fill: fill, stroke: stroke, 'stroke-width': 1 });
  else if (shape === 'square') node = make('rect', parent, { x: cx - size, y: cy - size, width: 2 * size, height: 2 * size, fill: fill, stroke: stroke, 'stroke-width': 1 });
  else if (shape === 'diamond') node = make('polygon', parent, { points: [cx, cy - size, cx + size, cy, cx, cy + size, cx - size, cy].join(' '), fill: fill, stroke: stroke, 'stroke-width': 1 });
  else if (shape === 'triangle') node = make('polygon', parent, { points: [cx, cy - size, cx + size, cy + size * .8, cx - size, cy + size * .8].join(' '), fill: fill, stroke: stroke, 'stroke-width': 1 });
  else if (shape === 'pentagon') node = make('polygon', parent, { points: [cx, cy - size, cx + size, cy - size * .25, cx + size * .6, cy + size, cx - size * .6, cy + size, cx - size, cy - size * .25].join(' '), fill: fill, stroke: stroke, 'stroke-width': 1 });
  else node = make('polygon', parent, { points: starPoints(cx, cy, size), fill: fill, stroke: stroke, 'stroke-width': .8 });
  return node;
}
/* axis: ticks + labels on a side */
function xAxis(g, ticks, sx, y, labelY, fmt, minor) {
  ticks.forEach(v => {
    const t = make('line', g, { x1: sx(v), x2: sx(v), y1: y, y2: y + 5, stroke: TICK, 'stroke-width': 1 });
    
    
    const lab = make('text', g, { x: sx(v), y: labelY, 'text-anchor': 'middle' }, fmt(v));
    
    
  });
  (minor || []).forEach(v => {
    const t = make('line', g, { x1: sx(v), x2: sx(v), y1: y, y2: y + 3, stroke: TICK, 'stroke-width': .8 });
    
    
  });
}
function yAxis(g, ticks, sy, x, fmt, minor) {
  ticks.forEach(v => {
    const t = make('line', g, { x1: x - 5, x2: x, y1: sy(v), y2: sy(v), stroke: TICK, 'stroke-width': 1 });
    
    
    const lab = make('text', g, { x: x - 6, y: sy(v) + 6, 'text-anchor': 'end' }, fmt(v));
    
    
  });
  (minor || []).forEach(v => {
    const t = make('line', g, { x1: x - 3, x2: x, y1: sy(v), y2: sy(v), stroke: TICK, 'stroke-width': .8 });
    
    
  });
}
function frame(g, l, t, r, b) {
  const f = make('rect', g, { x: l, y: t, width: r - l, height: b - t, fill: 'none', stroke: '#555', 'stroke-width': 1.2 });
  
  
}
const midpoints = arr => arr.slice(0, -1).map((v, i) => (v + arr[i + 1]) / 2);

/* ---------- (a) ---------- */
(function () {
  const g = $('a-plot');
  const sx = linear(0, 115, 76, 658), sy = linear(0, 600, 234.3, 36);
  frame(g, 76, 36, 659, 241);
  xAxis(g, aXTicks, sx, 241, 262, String);
  yAxis(g, aYTicks, sy, 76, String, midpoints(aYTicks));
  rateBoundaries.forEach(c => {
    const top = Math.max(capBlue[c - 1], capBlue[c]);
    const l = make('line', g, { x1: sx(c), x2: sx(c), y1: sy(top), y2: 241, stroke: '#222', 'stroke-width': .9, 'stroke-dasharray': '3 2' });
    
    
  });
  [[capBlue, 'blue', '#1f7fe6'], [capPurple, 'purple', '#b070e8'], [capRed, 'red', '#f0506a']].forEach(s => {
    const series = make('g', g, {});
    
    
    s[0].forEach((v, i) => {
      const c = make('circle', series, { cx: sx(i + 1), cy: sy(v), r: 6, fill: 'url(#bead-' + s[1] + ')' });
      
      
    });
  });
  rateLabels.forEach((t, i) => {
    const x = sx(rateLabelCycle[i]), y = sy(rateLabelCap[i]);
    const lab = make('text', g, { transform: 'translate(' + (x + 5) + ',' + y + ') rotate(-90)', 'text-anchor': 'middle', style: 'font-size:14px' }, t);
    
    
  });
  [[139, 163, 151.5, 'blue', '#1f7fe6'], [316.5, 341, 329, 'purple', '#b070e8'], [479, 503, 490.5, 'red', '#f0506a']].forEach(k => {
    const l = make('line', g, { x1: k[0], x2: k[1], y1: 64, y2: 64, stroke: k[4], 'stroke-width': 1.6 });
    
    
    const c = make('circle', g, { cx: k[2], cy: 64, r: 6.5, fill: 'url(#bead-' + k[3] + ')' });
    
    
  });
})();

/* ---------- (b) ---------- */
(function () {
  const g = $('b-plot');
  const sx = linear(0, 2, 762, 1033.3), sy = linear(0, 400, 240, 75.7);
  frame(g, 735, 37, 1060, 240);
  xAxis(g, bXTicks, sx, 240, 262, v => v.toFixed(1), midpoints(bXTicks));
  yAxis(g, bYTicks, sy, 735, String, midpoints(bYTicks));
  const series = [
    [bi2s3X, bi2s3Y, '#e8207f', 'square', 4.5, 'bi2s3', 'half'],
    [sb2te3X, sb2te3Y, '#6a10c8', 'circle', 5, 'sb2te3', 'solid'],
    [ws2X, ws2Y, '#f08030', 'circle', 5.5, 'ws2', 'top'],
    [moteX, moteY, '#e8a030', 'star', 7, 'mote2', 'top'],
    [bi2te3rgoX, bi2te3rgoY, '#f0d840', 'diamond', 5.5, 'bi2te3-rgo', 'top'],
    [znseX, znseY, '#90d840', 'triangle', 5, 'znse', 'half']
  ];
  const legendY = [55, 74, 94, 113, 132.7, 152];
  series.forEach((s, k) => {
    const grp = make('g', g, {});
    
    
    const xs = s[0].map(sx), ys = s[1].map(sy);
    const fillUrl = s[6] === 'solid' ? s[2] : halfFill(s[2], s[6] === 'top');
    make('path', grp, { d: polyPath(xs, ys), fill: 'none', stroke: s[2], 'stroke-width': 2 });
    xs.forEach((x, i) => {
      const m = drawShape(grp, s[3], x, ys[i], s[4], fillUrl, s[2]);
      
      
    });
    const l = make('line', g, { x1: 867, x2: 891, y1: legendY[k], y2: legendY[k], stroke: s[2], 'stroke-width': 2 });
    
    
    const m = drawShape(g, s[3], 879, legendY[k], s[4], fillUrl, s[2]);
    
    
  });
  const xs = thisWorkX.map(sx), ys = thisWorkY.map(sy);
  const main = make('g', g, {});
  
  
  make('path', main, { d: polyPath(xs, ys), fill: 'none', stroke: '#1c6fe0', 'stroke-width': 2 });
  xs.forEach((x, i) => {
    const st = make('polygon', main, { points: starPoints(x, ys[i], 13), fill: '#1c6fe0' });
    
    
  });
  const ll = make('line', g, { x1: 743, x2: 768, y1: 55, y2: 55, stroke: '#1c6fe0', 'stroke-width': 2 });
  
  
  const ls = make('polygon', g, { points: starPoints(755, 55, 10), fill: '#1c6fe0' });
  
  
})();

/* ---------- (c) ---------- */
(function () {
  const g = $('c-plot');
  const sx = linear(0, 3, 82.5, 320), sy = linear(0, 0.1, 378.3, 327.6);
  frame(g, 74, 302, 327.5, 505.7);
  xAxis(g, cvTicksX, sx, 505.7, 526, v => v.toFixed(1), midpoints(cvTicksX));
  yAxis(g, cvTicksY, sy, 74, v => v === 0 ? '0.0' : v.toFixed(1), midpoints(cvTicksY));
  const colors = ['#1f7fe6', '#b070e0', '#f0506a', '#2cc5c0', '#4fd08a'];
  const loops = [cv02, cv05, cv10, cv15, cv20];
  const legendY = [422.7, 439.7, 456, 472.7, 489];
  loops.forEach((loop, i) => {
    const p = make('path', g, { d: smoothPath(loop.map(q => sx(q[0])), loop.map(q => sy(q[1]))), fill: 'none', stroke: colors[i], 'stroke-width': 1.8, 'stroke-linejoin': 'round' });
    
    
    const l = make('line', g, { x1: 267, x2: 292, y1: legendY[i], y2: legendY[i], stroke: colors[i], 'stroke-width': 2 });
    
    
    const t = make('text', g, { x: 295, y: legendY[i] + 5, style: 'font-size:14px' }, cvRates[i]);
    
    
  });
  [[128.4, 375, 140, 310, '#b070e0', 'peak-1-arrow'], [159, 383, 142, 467, '#2f88e0', 'peak-2-arrow']].forEach(a => {
    const gr = make('g', g, {});
    
    
    make('line', gr, { x1: a[0], y1: a[1], x2: a[2], y2: a[3], stroke: a[4], 'stroke-width': 1.4 });
    const dx = a[2] - a[0], dy = a[3] - a[1], n = Math.hypot(dx, dy), ux = dx / n, uy = dy / n;
    make('polygon', gr, { points: [a[2] + ux * 2, a[3] + uy * 2, a[2] - ux * 8 - uy * 3.2, a[3] - uy * 8 + ux * 3.2, a[2] - ux * 8 + uy * 3.2, a[3] - uy * 8 - ux * 3.2].join(' '), fill: a[4] });
  });
})();

/* ---------- (d) ---------- */
(function () {
  const g = $('d-plot');
  const sx = linear(-0.8, 0.4, 405, 658.5), sy = linear(-0.8, -1.8, 302, 505.5);
  frame(g, 405, 302, 658.5, 505.5);
  xAxis(g, dXTicks, sx, 505.5, 526, v => v === 0 ? '0.0' : v.toFixed(1), midpoints(dXTicks));
  yAxis(g, dYTicks, sy, 405, v => v.toFixed(1), midpoints(dYTicks));
  function fit(xs, ys) {
    const n = xs.length, mx = xs.reduce((a, b) => a + b) / n, my = ys.reduce((a, b) => a + b) / n;
    let sxy = 0, sxx = 0;
    xs.forEach((x, i) => { sxy += (x - mx) * (ys[i] - my); sxx += (x - mx) * (x - mx); });
    const m = sxy / sxx;
    return x => my + m * (x - mx);
  }
  [[logIPeak1, '#b07ae0', 'pentagon', 'peak-1', 6], [logIPeak2, '#1f7fe6', 'circle', 'peak-2', 5]].forEach((s, k) => {
    const f = fit(logV, s[0]);
    const line = make('line', g, { x1: sx(logV[0]), y1: sy(f(logV[0])), x2: sx(logV[4]), y2: sy(f(logV[4])), stroke: s[1], 'stroke-width': 2 });
    
    
    const fillUrl = halfFill(s[1]);
    s[0].forEach((v, i) => {
      const m = drawShape(g, s[2], sx(logV[i]), sy(v), s[4], k ? 'url(#bead-blue)' : fillUrl, s[1]);
      
      
    });
    const lm = drawShape(g, s[2], 428.5, k ? 343 : 322.7, s[4], k ? 'url(#bead-blue)' : fillUrl, s[1]);
    
    
  });
})();

/* ---------- (e) ---------- */
(function () {
  const g = $('e-plot');
  const sy = linear(0, 100, 506, 346);
  const sx = i => 778 + 63 * i;
  const colors = ['#2f86dc', '#c48cf0', '#f07084', '#25c4c4', '#6fd09a'];
  yAxis(g, eYTicks, sy, 747, String, midpoints(eYTicks));
  const ax = make('line', g, { x1: 747, y1: 506, x2: 1063, y2: 506, stroke: '#666', 'stroke-width': 1.2 });
  
  
  const ay = make('line', g, { x1: 747, y1: 346, x2: 747, y2: 506, stroke: '#666', 'stroke-width': 1.2 });
  
  
  eValues.forEach((v, i) => {
    const cx = sx(i), b = make('g', g, {});
    
    
    const L = cx - 25.5, R = cx + 25.5, top = sy(v), bot = 502;
    const fillPath = 'M' + L + ' ' + top + 'H' + R + 'V' + (bot - 7) + 'Q' + R + ' ' + bot + ' ' + (R - 8) + ' ' + bot + 'H' + (L + 8) + 'Q' + L + ' ' + bot + ' ' + L + ' ' + (bot - 7) + 'Z';
    make('rect', b, { x: L, y: 348, width: 51, height: 154, rx: 6, fill: 'url(#glass)' });
    make('ellipse', b, { cx: cx - 16, cy: 354, rx: 9, ry: 3, fill: '#c8cfcb', opacity: .7 });
    const bar = make('path', b, { d: fillPath, fill: colors[i] });
    
    
    make('path', b, { d: fillPath, fill: 'url(#shade)' });
    make('path', b, { d: 'M' + (cx - 11) + ' 341C' + (cx - 11) + ' 336 ' + (cx - 7) + ' 332 ' + (cx - 4) + ' 332H' + (cx + 4) + 'C' + (cx + 7) + ' 332 ' + (cx + 11) + ' 336 ' + (cx + 11) + ' 341Z', fill: 'url(#metal)' });
    make('path', b, { d: 'M' + (cx - 27) + ' 349V346C' + (cx - 27) + ' 343 ' + (cx - 20) + ' 341 ' + (cx - 12) + ' 340H' + (cx + 12) + 'C' + (cx + 20) + ' 341 ' + (cx + 27) + ' 343 ' + (cx + 27) + ' 346V349Z', fill: 'url(#metal)' });
    make('path', b, { d: 'M' + (cx - 27) + ' 498C' + (cx - 24) + ' 503 ' + (cx - 20) + ' 504 ' + (cx - 12) + ' 505H' + (cx + 12) + 'C' + (cx + 20) + ' 504 ' + (cx + 24) + ' 503 ' + (cx + 27) + ' 498V507C' + (cx + 25) + ' 511 ' + (cx + 20) + ' 515 ' + (cx + 14) + ' 515H' + (cx - 14) + 'C' + (cx - 20) + ' 515 ' + (cx - 25) + ' 511 ' + (cx - 27) + ' 507Z', fill: 'url(#cup)' });
    const p1 = make('rect', b, { x: cx - 4.5, y: 353.3, width: 9, height: 2.2, fill: '#555' });
    
    
    const p2 = make('rect', b, { x: cx - 1.1, y: 349.8, width: 2.2, height: 9, fill: '#555' });
    
    
    const minus = make('rect', b, { x: cx - 2, y: 498.5, width: 8, height: 2, fill: '#3a3a3a' });
    
    
    const lab = make('text', b, { x: cx, y: sy(v) - 6, 'text-anchor': 'middle', style: 'font-size:15px' }, v.toFixed(1) + '%');
    
    
    const xl = make('text', g, { x: cx + 1, y: 528, 'text-anchor': 'middle' }, eRates[i]);
    
    
  });
})();

/* ---------- (f) ---------- */
(function () {
  const g = $('f-plot');
  const sx = linear(0, 200, 74.4, 514);
  const panels = [
    { top: 570, bot: 637, data: gittBlue, color: '#1f7fe6', name: 'npcnfs', labels: fPanelTopLabels, vals: [3, 2, 1, 0] },
    { top: 637, bot: 705, data: gittPurple, color: '#b070e8', name: 'ncnfs-vacancy', labels: fPanelMidLabels, vals: [2, 1] },
    { top: 705, bot: 773, data: gittRed, color: '#f0506a', name: 'ncnfs', labels: fPanelLowLabels, vals: [3, 2, 1, 0] }
  ];
  panels.forEach(p => {
    const sy = linear(0, 3, p.bot, p.top);
    frame(g, 74.4, p.top, 514, p.bot);
    yAxis(g, p.vals, sy, 74.4, v => p.labels[p.vals.indexOf(v)]);
    const rx = [], ry = [];
    gittStep.forEach((s, i) => {
      const v = p.data[i], a = gittPulse[i];
      const next = i + 1 < gittStep.length ? gittStep[i + 1] : 200;
      const nextV = i + 1 < p.data.length ? p.data[i + 1] : v;
      if (s < 100) {
        rx.push(s, s + 1.4, s + 1.5, next);
        ry.push(v, v - a, v - a * .3, nextV);
      } else {
        rx.push(s, s + 1.4, s + 1.5, next);
        ry.push(v, v + a, v + a * .3, nextV);
      }
    });
    const curve = make('path', g, { d: polyPath(rx.map(sx), ry.map(sy)), fill: 'none', stroke: p.color, 'stroke-width': 2, 'stroke-linejoin': 'round' });
    
    
    const leader = make('line', g, { x1: 338, x2: 368.5, y1: p.name === 'npcnfs' ? 628 : (p.name === 'ncnfs' ? 762.7 : 696), y2: p.name === 'npcnfs' ? 628 : (p.name === 'ncnfs' ? 762.7 : 696), stroke: p.color, 'stroke-width': 1.3 });
    
    
  });
  xAxis(g, fXTicks, sx, 773, 796, String, midpoints(fXTicks));

  /* insets */
  const ins = $('f-insets');
  const ix = linear(103, 106, 219, 263);
  const insets = [
    { t: 571.7, y4: 582, y2: 603, data: insetBlue, color: '#1f7fe6', clip: 'clip-inset-1', v: [214.3, 222.7], lab: 622.7 + 6 },
    { t: 640, y4: 650, y2: 671.7, data: insetPurple, color: '#b070e8', clip: 'clip-inset-2', v: [218, 225], lab: 690.7 + 6 },
    { t: 707.7, y4: 717.7, y2: 739, data: insetRed, color: '#f0506a', clip: 'clip-inset-3', v: [214, 222.7], lab: 759 + 6 }
  ];
  const yLabs = ['0.2', '0.4'];
  const xLabs = [103, 106];
  insets.forEach((n, k) => {
    const iy = linear(0.2, 0.4, n.y2, n.y4);
    const bg = make('rect', ins, { x: 204, y: n.t, width: 79, height: 44, fill: '#fff', stroke: '#777', 'stroke-width': 1.5 });
    
    
    const c = make('path', ins, { d: polyPath(insetTime.map(ix), n.data.map(iy)), fill: 'none', stroke: n.color, 'stroke-width': 1.4, 'clip-path': 'url(#' + n.clip + ')' });
    
    
    n.v.forEach(x => {
      const l = make('line', ins, { x1: x, x2: x, y1: n.t, y2: n.t + 44, stroke: '#222', 'stroke-width': .9, 'stroke-dasharray': '2.5 2' });
      
      
    });
    [0.2, 0.4].forEach((v, j) => {
      const l = make('text', ins, { x: 201, y: iy(v) + 5, 'text-anchor': 'end', style: 'font-size:14px' }, yLabs[j]);
      
      
    });
    xLabs.forEach(v => {
      const l = make('text', ins, { x: ix(v), y: n.lab, 'text-anchor': 'middle', style: 'font-size:14px' }, String(v));
      
      
    });
  });
  const annots = [
    [214, 602, 226, 602, '#f0a040'], [222, 589, 232, 589, '#f0a040'], [227, 589, 227, 603, '#f0a040'],
    [214, 609, 262, 609, '#35c5c5'], [252.7, 596, 252.7, 610, '#35c5c5'],
    [225, 652, 243, 652, '#f0a040'], [218, 663, 238, 663, '#f0a040'], [238, 652, 238, 672, '#f0a040'],
    [218, 672, 255, 672, '#35c5c5'], [255, 655, 255, 672, '#35c5c5'],
    [222, 712.7, 241, 712.7, '#f0a040'], [234, 713, 234, 728, '#f0a040'],
    [214, 736, 262, 736, '#35c5c5'], [252.7, 720, 252.7, 750, '#35c5c5'],
    [205, 585.7, 214, 585.7, '#222'], [222.7, 585.7, 232, 585.7, '#222'],
    [208, 650, 218, 650, '#222'], [225, 650, 236, 650, '#222'],
    [206, 717, 214, 717, '#222'], [222.7, 717, 232, 717, '#222']
  ];
  annots.forEach(a => {
    const l = make('line', ins, { x1: a[0], y1: a[1], x2: a[2], y2: a[3], stroke: a[4], 'stroke-width': 1.2, 'stroke-dasharray': a[4] === '#222' || a[0] === a[2] ? 'none' : '2.5 2' });
    
    
  });
})();

/* ---------- (g) ---------- */
(function () {
  const g = $('g-plot');
  const sx = linear(0, 200, 614.6, 1061.5);
  const sy = v => 670.3 + (-Math.log10(v)) * 102.7;
  frame(g, 614.6, 567.5, 1061.5, 773);
  xAxis(g, gXTicks, sx, 773, 796, String, midpoints(gXTicks));
  const decades = make('g', g, {});
  
  
  gYExp.forEach(e => {
    const y = sy(Math.pow(10, e + 12));
    const t = make('line', decades, { x1: 609.6, x2: 614.6, y1: y, y2: y, stroke: TICK });
    
    
    const l = make('text', decades, { x: 608.6, y: y + 6, 'text-anchor': 'end' }, '1E' + e);
    
    
  });
  const sep = make('line', g, { x1: sx(100), x2: sx(100), y1: 567.5, y2: 773, stroke: '#25c4c4', 'stroke-width': 3, 'stroke-dasharray': '8 4' });
  
  
  const series = [
    ['blue', '#1f7fe6', dischargeBlueX, dischargeBlueY, chargeBlueX, chargeBlueY, 725.7],
    ['purple', '#b070e8', dischargePurpleX, dischargePurpleY, chargePurpleX, chargePurpleY, 743.3],
    ['red', '#f0506a', dischargeRedX, dischargeRedY, chargeRedX, chargeRedY, 761.7]
  ];
  series.forEach(s => {
    const grp = make('g', g, {});
    
    
    [[s[2], s[3]], [s[4], s[5]]].forEach(seg => {
      const xs = seg[0].map(sx), ys = seg[1].map(sy);
      make('path', grp, { d: polyPath(xs, ys), fill: 'none', stroke: s[1], 'stroke-width': 1.8 });
      xs.forEach((x, i) => {
        const c = make('circle', grp, { cx: x, cy: ys[i], r: 4.4, fill: 'url(#bead-' + s[0] + ')' });
        
        
      });
    });
    const l = make('line', g, { x1: 622, x2: 647.5, y1: s[6], y2: s[6], stroke: s[1], 'stroke-width': 2 });
    
    
    const c = make('circle', g, { cx: 634.6, cy: s[6], r: 4.6, fill: 'url(#bead-' + s[0] + ')' });
    
    
  });
})();

/* ---------- (h)(i) crystals ---------- */
const teTopX = [62, 112.7, 168.3, 219, 269.3];
const biUpperX = [78.3, 129, 183.3, 234.3];
const teMidX = [42, 97.3, 148.3, 202.7, 253.7, 304.3];
const biLowerX = [113.3, 163.7, 219, 270];
const teLowX = [78, 132.7, 183.3, 238.7, 289.3];
function drawCrystal(root, dx) {
  const layers = [3, 2, 1, 0];
  const TE = 5.5, BI = 4.4;
  const yTop = 933.3, yBiU = 957.3, yMid = 986, yBiL = 1014.3, yLow = 1039;
  const bonds = [];
  biUpperX.forEach((x, i) => {
    bonds.push([teTopX[i], yTop, x, yBiU], [teTopX[i + 1], yTop, x, yBiU], [teMidX[i], yMid, x, yBiU], [teMidX[i + 1], yMid, x, yBiU]);
  });
  biLowerX.forEach((x, i) => {
    bonds.push([teMidX[i + 1], yMid, x, yBiL], [teMidX[i + 2], yMid, x, yBiL], [teLowX[i], yLow, x, yBiL], [teLowX[i + 1], yLow, x, yBiL]);
  });
  const slashDir = b => (b[0] - b[2]) * (b[1] - b[3]) < 0;
  function bond(k, b, solid) {
    const ax = b[0] - k * TE + dx, cx = b[2] - k * BI + dx, mx = (ax + cx) / 2, my = (b[1] + b[3]) / 2;
    if (solid) {
      make('line', root, { x1: ax, y1: b[1], x2: mx, y2: my, stroke: '#bb62d2', 'stroke-width': 4 });
      make('line', root, { x1: mx, y1: my, x2: cx, y2: b[3], stroke: '#2f75c8', 'stroke-width': 4 });
    } else {
      [-1.4, 1.4].forEach(o => {
        make('line', root, { x1: ax, y1: b[1] + o, x2: mx, y2: my + o, stroke: '#d77fe0', 'stroke-width': 1 });
        make('line', root, { x1: mx, y1: my + o, x2: cx, y2: b[3] + o, stroke: '#4f9fe8', 'stroke-width': 1 });
      });
    }
  }
  layers.forEach(k => bonds.filter(slashDir).forEach(b => bond(k, b, false)));
  layers.forEach(k => bonds.filter(b => !slashDir(b)).forEach(b => bond(k, b, true)));
  function atom(x, y, r, fill, k, off, name) {
    const c = make('ellipse', root, { cx: x - k * off + dx, cy: y, rx: r, ry: r, fill: fill });
    
    
  }
  layers.forEach(k => {
    biUpperX.forEach(x => atom(x, yBiU, 9.8, 'url(#atom-bi)', k, BI, 'bi-atom'));
    biLowerX.forEach(x => atom(x, yBiL, 9.8, 'url(#atom-bi)', k, BI, 'bi-atom'));
    teTopX.forEach(x => atom(x, yTop, 7.4, 'url(#atom-te)', k, TE, 'te-atom'));
    teMidX.forEach(x => atom(x, yMid, 7.4, 'url(#atom-te)', k, TE, 'te-atom'));
    teLowX.forEach(x => atom(x, yLow, 7.4, 'url(#atom-te)', k, TE, 'te-atom'));
  });
}
drawCrystal($('crystal-h'), 0);
drawCrystal($('crystal-i'), 376);

/* ---------- (j) ---------- */
(function () {
  const g = $('j-plot');
  const sx = linear(0, 4, 747.3, 1061.7), sy = linear(0, 0.8, 1031.7, 870);
  frame(g, 747.3, 832, 1061.7, 1035);
  xAxis(g, jXTicks, sx, 1035, 1056, String, midpoints(jXTicks));
  yAxis(g, jYTicks, sy, 747.3, v => v.toFixed(1), midpoints(jYTicks));

  const kA = [805, 820, 835.7, 850.7, 864.3], kB = [947, 960, 972, 984, 998];
  const biRow = [[802.7, 893.3], [827.3, 892.3], [847.3, 892.3], [870.7, 891], [788.3, 917.3], [812.7, 916], [833.3, 916], [856.7, 914.3]];
  const teRows = [[787, 885], [808, 884], [829, 884], [850, 883], [875, 882], [774, 905], [795, 903], [817, 905], [837, 905], [858, 903], [885, 903], [780, 929], [803, 928], [823, 928], [848, 926], [870, 924]];
  function lattice(dx) {
    const root = make('g', g, {});
    
    
    biRow.forEach(p => {
      teRows.forEach(t => {
        if (Math.hypot(t[0] - p[0], t[1] - p[1]) < 22) {
          for (let k = 0; k < 4; k++) {
            const ax = t[0] + dx + k * 4, ay = t[1] - k * 2.6, bx = p[0] + dx + k * 4, by = p[1] - k * 2.6;
            make('line', root, { x1: ax, y1: ay, x2: (ax + bx) / 2, y2: (ay + by) / 2, stroke: '#d8a8e8', 'stroke-width': 1.5 });
            make('line', root, { x1: (ax + bx) / 2, y1: (ay + by) / 2, x2: bx, y2: by, stroke: '#80b8e8', 'stroke-width': 1.5 });
          }
        }
      });
    });
    teRows.forEach(t => {
      for (let k = 3; k >= 0; k--) {
        const c = make('circle', root, { cx: t[0] + dx + k * 4, cy: t[1] - k * 2.6, r: 2.4, fill: '#eccff4', stroke: '#b04ec8', 'stroke-width': 1.3 });
        
        
      }
    });
    biRow.forEach(p => {
      for (let k = 3; k >= 0; k--) {
        const c = make('circle', root, { cx: p[0] + dx + k * 4, cy: p[1] - k * 2.6, r: k ? 3.4 : 4.2, fill: 'url(#atom-bi)' });
        
        
      }
    });
  }
  lattice(0);
  lattice(144);
  const vac = make('circle', g, { cx: 835, cy: 882, r: 4.5, fill: 'none', stroke: '#f0b030', 'stroke-width': 1.2, 'stroke-dasharray': '1.2 1.8' });
  
  
  kA.concat(kB).forEach((x, i) => {
    const c = make('circle', g, { cx: x, cy: i < 5 ? 867.7 : 868.5, r: 5.4, fill: 'url(#atom-k-small)' });
    
    
  });

  const redHalf = halfFill('#f0506a');
  const rx = jPath.map(sx), ry = jRed.map(sy), bx = jPath.map(sx), by = jBlue.map(sy);
  const redLine = make('path', g, { d: smoothPath(rx, ry), fill: 'none', stroke: '#f0506a', 'stroke-width': 2 });
  
  
  const blueLine = make('path', g, { d: smoothPath(bx, by), fill: 'none', stroke: '#1f7fe6', 'stroke-width': 2 });
  
  
  rx.forEach((x, i) => {
    const m = make('circle', g, { cx: x, cy: ry[i], r: 5.4, fill: redHalf, stroke: '#f0506a', 'stroke-width': 1 });
    
    
  });
  bx.forEach((x, i) => {
    const m = make('circle', g, { cx: x, cy: by[i], r: 5.6, fill: 'url(#bead-blue)' });
    
    
  });
  const l1 = make('line', g, { x1: 865, x2: 890, y1: 996.6, y2: 996.6, stroke: '#1f7fe6', 'stroke-width': 2 });
  
  
  const m1 = make('circle', g, { cx: 877.7, cy: 996.6, r: 5.6, fill: 'url(#bead-blue)' });
  
  
  const l2 = make('line', g, { x1: 865, x2: 890, y1: 1018, y2: 1018, stroke: '#f0506a', 'stroke-width': 2 });
  
  
  const m2 = make('circle', g, { cx: 877.7, cy: 1018, r: 5.6, fill: redHalf, stroke: '#f0506a' });
  
  
})();
</script>
</body>
</html>
